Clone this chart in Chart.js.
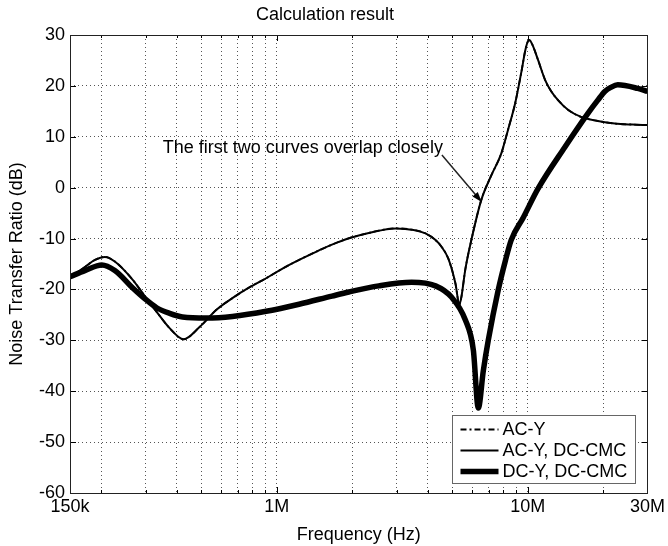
<!DOCTYPE html>
<html>
<head>
<meta charset="utf-8">
<script src="https://cdn.jsdelivr.net/npm/chart.js@4.4.0/dist/chart.umd.min.js"></script>
<style>
  html, body { margin: 0; padding: 0; background: #fff; }
</style>
</head>
<body>
<canvas id="chart" width="668" height="546"></canvas>
<script>
// values: frequency in Hz, ratio in dB
const thinFreq = [150000, 172000, 188500, 206500, 226300, 266700, 297700, 332200, 374100, 425200,
    492100, 574700, 665400, 776900, 907200, 1050000, 1227000, 1433000, 1659000, 1937000,
    2326000, 2977000, 3509000, 3915000, 4290000, 4532000, 4830000, 5149000, 5341000, 5439000,
    5642000, 5960000, 6531000, 7157000, 7841000, 8358000, 8910000, 9412000, 9852000, 10130000,
    10410000, 10990000, 11720000, 12380000, 13200000, 14460000, 16290000, 19020000, 22220000, 26190000,
    30000000];
const thinDb = [-17.6, -15.6, -14.2, -13.6, -14.5, -18.1, -21.3, -24.4, -27.6, -29.8,
    -27.4, -24.0, -21.7, -19.6, -17.8, -15.95, -14.2, -12.6, -11.2, -9.95,
    -8.9, -8.0, -8.3, -9.0, -10.3, -11.6, -14.0, -18.8, -23.0, -21.5,
    -16.0, -10.3, -2.4, 2.4, 6.7, 11.5, 16.6, 22.5, 27.7, 29.0,
    28.2, 25.1, 21.2, 19.0, 17.2, 15.3, 13.9, 13.1, 12.6, 12.4,
    12.3];
const thickFreq = [150000, 172000, 200900, 226300, 266700, 297700, 332200, 374100, 421300, 524600,
    665400, 907200, 1227000, 1659000, 1937000, 2549000, 3445000, 4290000, 4965000, 5642000,
    6070000, 6354000, 6651000, 6962000, 7629000, 8130000, 8590000, 9590000, 10990000, 14070000,
    17370000, 19020000, 20280000, 21420000, 22830000, 27420000, 30000000];
const thickDb = [-17.5, -16.3, -15.2, -16.3, -19.7, -21.8, -23.6, -24.7, -25.4, -25.6,
    -25.3, -24.3, -22.9, -21.3, -20.5, -19.3, -18.6, -19.3, -21.5, -26.0,
    -31.9, -43.3, -36.0, -30.0, -20.1, -14.5, -10.3, -5.9, -0.2, 8.0,
    14.6, 17.2, 18.9, 19.7, 20.2, 19.5, 18.9];

const seriesNames = ['AC-Y', 'AC-Y, DC-CMC', 'DC-Y, DC-CMC'];
const xTickValues = [150e3, 2e5, 3e5, 4e5, 5e5, 6e5, 7e5, 8e5, 9e5, 1e6,
    2e6, 3e6, 4e6, 5e6, 6e6, 7e6, 8e6, 9e6, 1e7, 2e7, 3e7];
const xTickLabels = { 150000: '150k', 1000000: '1M', 10000000: '10M', 30000000: '30M' };
const yTickValues = [-60, -50, -40, -30, -20, -10, 0, 10, 20, 30];

const noteText = 'The first two curves overlap closely';
const notePos = { x: 1.27e6, y: 7.8 };
const arrowFrom = { x: 4.55e6, y: 6.4 };
const arrowTo = { x: 6.55e6, y: -2.8 };

const FONT = "'Liberation Sans', Arial, Helvetica, sans-serif";
Chart.defaults.font.family = FONT;
Chart.defaults.color = '#000';

function pts(xs, ys) {
    return xs.map((x, i) => ({ x: x, y: ys[i] }));
}

const edgeX = [xTickValues[0], xTickValues[xTickValues.length - 1]];
const edgeY = [yTickValues[0], yTickValues[yTickValues.length - 1]];

// axes box, inward ticks, note with arrow, legend box
const matlabPlugin = {
    id: 'matlabLook',
    afterDatasetsDraw(chart) {
        const { ctx, chartArea: a, scales: { x, y } } = chart;
        ctx.save();
        ctx.strokeStyle = '#000';
        ctx.lineWidth = 1;
        ctx.beginPath();
        x.ticks.forEach(t => {
            const px = Math.round(x.getPixelForValue(t.value)) + 0.5;
            const len = xTickLabels[t.value] ? 6 : 3;
            ctx.moveTo(px, a.bottom); ctx.lineTo(px, a.bottom - len);
            ctx.moveTo(px, a.top); ctx.lineTo(px, a.top + len);
        });
        y.ticks.forEach(t => {
            const py = Math.round(y.getPixelForValue(t.value)) + 0.5;
            ctx.moveTo(a.left, py); ctx.lineTo(a.left + 6, py);
            ctx.moveTo(a.right, py); ctx.lineTo(a.right - 6, py);
        });
        ctx.stroke();
        ctx.strokeStyle = '#222';
        ctx.strokeRect(Math.round(a.left) + 0.5, Math.round(a.top) + 0.5,
            Math.round(a.right - a.left), Math.round(a.bottom - a.top));

        // note and arrow
        ctx.fillStyle = '#000';
        ctx.font = '18px ' + FONT;
        ctx.textAlign = 'center';
        ctx.textBaseline = 'middle';
        ctx.fillText(noteText, x.getPixelForValue(notePos.x), y.getPixelForValue(notePos.y));
        const x0 = x.getPixelForValue(arrowFrom.x), y0 = y.getPixelForValue(arrowFrom.y);
        const x1 = x.getPixelForValue(arrowTo.x), y1 = y.getPixelForValue(arrowTo.y);
        const ang = Math.atan2(y1 - y0, x1 - x0);
        ctx.lineWidth = 1.5;
        ctx.beginPath();
        ctx.moveTo(x0, y0);
        ctx.lineTo(x1 - 8 * Math.cos(ang), y1 - 8 * Math.sin(ang));
        ctx.stroke();
        ctx.beginPath();
        ctx.moveTo(x1, y1);
        ctx.lineTo(x1 - 10 * Math.cos(ang) + 3.5 * Math.sin(ang), y1 - 10 * Math.sin(ang) - 3.5 * Math.cos(ang));
        ctx.lineTo(x1 - 10 * Math.cos(ang) - 3.5 * Math.sin(ang), y1 - 10 * Math.sin(ang) + 3.5 * Math.cos(ang));
        ctx.closePath();
        ctx.fill();

        // legend in lower right corner
        const bw = 183, bh = 68;
        const bx = Math.round(a.right - 12 - bw) + 0.5, by = Math.round(a.bottom - 10 - bh) + 0.5;
        ctx.fillStyle = '#fff';
        ctx.fillRect(bx, by, bw, bh);
        ctx.strokeStyle = '#666';
        ctx.lineWidth = 1;
        ctx.strokeRect(bx, by, bw, bh);
        ctx.font = '18px ' + FONT;
        ctx.textAlign = 'left';
        chart.data.datasets.forEach((ds, i) => {
            const ly = by + 14 + i * 21;
            ctx.strokeStyle = '#000';
            ctx.lineWidth = ds.borderWidth;
            ctx.setLineDash(ds.borderDash || []);
            ctx.beginPath();
            ctx.moveTo(bx + 8, ly);
            ctx.lineTo(bx + 46, ly);
            ctx.stroke();
            ctx.setLineDash([]);
            ctx.fillStyle = '#000';
            ctx.fillText(ds.label, bx + 50, ly + 1);
        });
        ctx.restore();
    }
};

const gridColor = edges => c => (c.tick && edges.includes(c.tick.value)) ? 'rgba(0,0,0,0)' : '#555';

new Chart(document.getElementById('chart'), {
    type: 'line',
    data: {
        datasets: [
            {
                label: seriesNames[0],
                data: pts(thinFreq, thinDb),
                borderColor: '#000',
                borderWidth: 1.8,
                borderDash: [6, 3, 2, 3]
            },
            {
                label: seriesNames[1],
                data: pts(thinFreq, thinDb),
                borderColor: '#000',
                borderWidth: 2
            },
            {
                label: seriesNames[2],
                data: pts(thickFreq, thickDb),
                borderColor: '#000',
                borderWidth: 5.5
            }
        ]
    },
    options: {
        responsive: false,
        animation: false,
        layout: { padding: { left: 0, right: 18, top: 0, bottom: 0 } },
        elements: {
            point: { radius: 0 },
            line: { cubicInterpolationMode: 'monotone', fill: false, borderJoinStyle: 'round' }
        },
        plugins: {
            legend: { display: false },
            tooltip: { enabled: false },
            title: {
                display: true,
                text: 'Calculation result',
                color: '#000',
                font: { size: 18, weight: 'normal' },
                padding: { top: 4, bottom: 9.4 }
            }
        },
        scales: {
            x: {
                type: 'logarithmic',
                min: 150e3,
                max: 30e6,
                afterBuildTicks: s => { s.ticks = xTickValues.map(v => ({ value: v })); },
                afterFit: s => { s.height = 53; },
                ticks: {
                    autoSkip: false,
                    maxRotation: 0,
                    minRotation: 0,
                    padding: 3,
                    color: '#000',
                    font: { size: 18 },
                    callback: v => xTickLabels[v] || ''
                },
                grid: { drawTicks: false, color: gridColor(edgeX), lineWidth: 1 },
                border: { display: false, dash: [1, 3] },
                title: {
                    display: true,
                    text: 'Frequency (Hz)',
                    color: '#000',
                    font: { size: 18 },
                    padding: { top: 0, bottom: 0 }
                }
            },
            y: {
                min: -60,
                max: 30,
                afterBuildTicks: s => { s.ticks = yTickValues.map(v => ({ value: v })); },
                afterFit: s => { s.width = 70; },
                ticks: { padding: 5, color: '#000', font: { size: 18 } },
                grid: { drawTicks: false, color: gridColor(edgeY), lineWidth: 1 },
                border: { display: false, dash: [1, 3] },
                title: {
                    display: true,
                    text: 'Noise Transfer Ratio (dB)',
                    color: '#000',
                    font: { size: 18 },
                    padding: { top: 6, bottom: 0 }
                }
            }
        }
    },
    plugins: [matlabPlugin]
});
</script>
</body>
</html>
